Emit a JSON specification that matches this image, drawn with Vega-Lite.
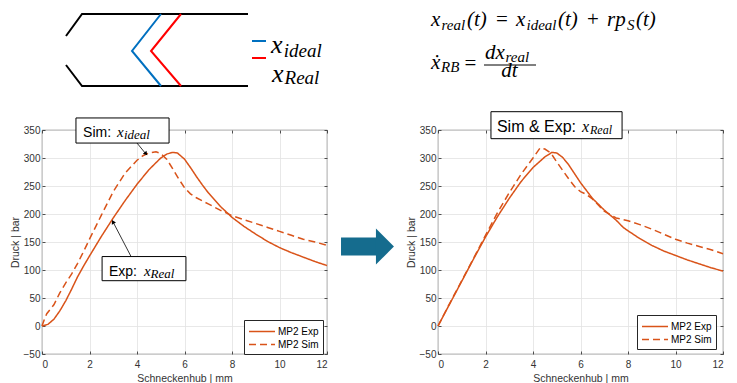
{
  "$schema": "https://vega.github.io/schema/vega-lite/v6.json",
  "padding": {"left": 9, "top": 0, "right": 0, "bottom": 0},
  "background": "white",
  "columns": 2,
  "bounds": "flush",
  "spacing": {"row": 30, "column": 111},
  "resolve": {"scale": {"strokeDash": "independent"}, "legend": {"strokeDash": "independent"}},
  "datasets": {
    "diag": [
      {"seg": "wallTop", "part": "wall", "o": 1, "x": 8.42, "y": 64},
      {"seg": "wallTop", "part": "wall", "o": 2, "x": 14.04, "y": 86},
      {"seg": "wallTop", "part": "wall", "o": 3, "x": 72.28, "y": 86},
      {"seg": "wallBot", "part": "wall", "o": 1, "x": 8.42, "y": 35},
      {"seg": "wallBot", "part": "wall", "o": 2, "x": 14.04, "y": 14},
      {"seg": "wallBot", "part": "wall", "o": 3, "x": 72.28, "y": 14},
      {"seg": "ideal", "part": "ideal", "o": 1, "x": 41.75, "y": 86},
      {"seg": "ideal", "part": "ideal", "o": 2, "x": 31.58, "y": 49},
      {"seg": "ideal", "part": "ideal", "o": 3, "x": 41.75, "y": 14},
      {"seg": "real", "part": "real", "o": 1, "x": 48.77, "y": 86},
      {"seg": "real", "part": "real", "o": 2, "x": 38.25, "y": 49},
      {"seg": "real", "part": "real", "o": 3, "x": 48.77, "y": 14},
      {"seg": "keyIdeal", "part": "ideal", "o": 1, "x": 73.68, "y": 59},
      {"seg": "keyIdeal", "part": "ideal", "o": 2, "x": 78.6, "y": 59},
      {"seg": "keyReal", "part": "real", "o": 1, "x": 73.68, "y": 42},
      {"seg": "keyReal", "part": "real", "o": 2, "x": 78.6, "y": 42}
    ],
    "diagText": [
      {"t": "x", "role": "main", "x": 80.35, "y": 47},
      {"t": "ideal", "role": "sub", "x": 84.8, "y": 43},
      {"t": "x", "role": "main", "x": 80.7, "y": 18},
      {"t": "Real", "role": "sub", "x": 85.1, "y": 16}
    ],
    "formula": [
      {"t": "x", "role": "main", "x": -2.46, "y": 74.3},
      {"t": "real", "role": "sub", "x": 1.23, "y": 70},
      {"t": "(t)", "role": "main", "x": 10.18, "y": 74.3},
      {"t": "=", "role": "op", "x": 20.35, "y": 74.3},
      {"t": "x", "role": "main", "x": 27.37, "y": 74.3},
      {"t": "ideal", "role": "sub", "x": 31.05, "y": 70},
      {"t": "(t)", "role": "main", "x": 42.11, "y": 74.3},
      {"t": "+", "role": "op", "x": 52.28, "y": 74.3},
      {"t": "rp", "role": "main", "x": 59.3, "y": 74.3},
      {"t": "S", "role": "sub", "x": 66.32, "y": 70},
      {"t": "(t)", "role": "main", "x": 69.47, "y": 74.3},
      {"t": "ẋ", "role": "main", "x": -2.46, "y": 30.7},
      {"t": "RB", "role": "sub", "x": 1.05, "y": 28.3},
      {"t": "=", "role": "op", "x": 9.3, "y": 30},
      {"t": "dx", "role": "main", "x": 16.49, "y": 40.7},
      {"t": "real", "role": "sub", "x": 23.68, "y": 37.6},
      {"t": "dt", "role": "main", "x": 22.18, "y": 23.3}
    ],
    "fracBar": [{"x": 16.14, "x2": 34.39, "y": 35}],
    "leftCurves": [
      {"series": "MP2 Exp", "mm": 0, "bar": 0}, {"series": "MP2 Exp", "mm": 0.25, "bar": 3},
      {"series": "MP2 Exp", "mm": 0.5, "bar": 12}, {"series": "MP2 Exp", "mm": 0.75, "bar": 27},
      {"series": "MP2 Exp", "mm": 1, "bar": 45}, {"series": "MP2 Exp", "mm": 1.25, "bar": 66},
      {"series": "MP2 Exp", "mm": 1.5, "bar": 88}, {"series": "MP2 Exp", "mm": 1.75, "bar": 107},
      {"series": "MP2 Exp", "mm": 2, "bar": 125}, {"series": "MP2 Exp", "mm": 2.5, "bar": 160},
      {"series": "MP2 Exp", "mm": 3, "bar": 193}, {"series": "MP2 Exp", "mm": 3.5, "bar": 224},
      {"series": "MP2 Exp", "mm": 4, "bar": 253}, {"series": "MP2 Exp", "mm": 4.5, "bar": 279},
      {"series": "MP2 Exp", "mm": 5, "bar": 300}, {"series": "MP2 Exp", "mm": 5.25, "bar": 307},
      {"series": "MP2 Exp", "mm": 5.5, "bar": 310}, {"series": "MP2 Exp", "mm": 5.7, "bar": 309},
      {"series": "MP2 Exp", "mm": 6, "bar": 298}, {"series": "MP2 Exp", "mm": 6.25, "bar": 283},
      {"series": "MP2 Exp", "mm": 6.5, "bar": 267}, {"series": "MP2 Exp", "mm": 6.75, "bar": 252},
      {"series": "MP2 Exp", "mm": 7, "bar": 238}, {"series": "MP2 Exp", "mm": 7.5, "bar": 214},
      {"series": "MP2 Exp", "mm": 8, "bar": 194}, {"series": "MP2 Exp", "mm": 8.5, "bar": 178},
      {"series": "MP2 Exp", "mm": 8.75, "bar": 171}, {"series": "MP2 Exp", "mm": 9, "bar": 164},
      {"series": "MP2 Exp", "mm": 9.5, "bar": 151}, {"series": "MP2 Exp", "mm": 10, "bar": 140},
      {"series": "MP2 Exp", "mm": 10.5, "bar": 131}, {"series": "MP2 Exp", "mm": 11, "bar": 123},
      {"series": "MP2 Exp", "mm": 11.5, "bar": 115}, {"series": "MP2 Exp", "mm": 12, "bar": 108},
      {"series": "MP2 Sim", "mm": 0, "bar": 0}, {"series": "MP2 Sim", "mm": 0.1, "bar": 12},
      {"series": "MP2 Sim", "mm": 0.2, "bar": 22}, {"series": "MP2 Sim", "mm": 0.5, "bar": 38},
      {"series": "MP2 Sim", "mm": 0.75, "bar": 59}, {"series": "MP2 Sim", "mm": 1, "bar": 77},
      {"series": "MP2 Sim", "mm": 1.25, "bar": 93}, {"series": "MP2 Sim", "mm": 1.5, "bar": 112},
      {"series": "MP2 Sim", "mm": 1.75, "bar": 133}, {"series": "MP2 Sim", "mm": 2, "bar": 155},
      {"series": "MP2 Sim", "mm": 2.5, "bar": 198}, {"series": "MP2 Sim", "mm": 3, "bar": 240},
      {"series": "MP2 Sim", "mm": 3.5, "bar": 273}, {"series": "MP2 Sim", "mm": 4, "bar": 296},
      {"series": "MP2 Sim", "mm": 4.25, "bar": 304}, {"series": "MP2 Sim", "mm": 4.5, "bar": 309},
      {"series": "MP2 Sim", "mm": 4.8, "bar": 311}, {"series": "MP2 Sim", "mm": 5, "bar": 308},
      {"series": "MP2 Sim", "mm": 5.25, "bar": 298}, {"series": "MP2 Sim", "mm": 5.5, "bar": 281},
      {"series": "MP2 Sim", "mm": 5.75, "bar": 263}, {"series": "MP2 Sim", "mm": 6, "bar": 247},
      {"series": "MP2 Sim", "mm": 6.25, "bar": 236}, {"series": "MP2 Sim", "mm": 6.5, "bar": 229},
      {"series": "MP2 Sim", "mm": 7, "bar": 218}, {"series": "MP2 Sim", "mm": 7.5, "bar": 207},
      {"series": "MP2 Sim", "mm": 8, "bar": 197}, {"series": "MP2 Sim", "mm": 8.5, "bar": 190},
      {"series": "MP2 Sim", "mm": 9, "bar": 183}, {"series": "MP2 Sim", "mm": 9.5, "bar": 176},
      {"series": "MP2 Sim", "mm": 10, "bar": 169}, {"series": "MP2 Sim", "mm": 10.5, "bar": 162},
      {"series": "MP2 Sim", "mm": 11, "bar": 155}, {"series": "MP2 Sim", "mm": 11.5, "bar": 150},
      {"series": "MP2 Sim", "mm": 12, "bar": 144}
    ],
    "rightCurves": [
      {"series": "MP2 Exp", "mm": 0, "bar": 0}, {"series": "MP2 Exp", "mm": 0.5, "bar": 40},
      {"series": "MP2 Exp", "mm": 1, "bar": 80}, {"series": "MP2 Exp", "mm": 1.5, "bar": 120},
      {"series": "MP2 Exp", "mm": 2, "bar": 159}, {"series": "MP2 Exp", "mm": 2.5, "bar": 195},
      {"series": "MP2 Exp", "mm": 3, "bar": 228}, {"series": "MP2 Exp", "mm": 3.5, "bar": 258},
      {"series": "MP2 Exp", "mm": 4, "bar": 283}, {"series": "MP2 Exp", "mm": 4.5, "bar": 302},
      {"series": "MP2 Exp", "mm": 4.8, "bar": 310}, {"series": "MP2 Exp", "mm": 5, "bar": 309},
      {"series": "MP2 Exp", "mm": 5.25, "bar": 301}, {"series": "MP2 Exp", "mm": 5.5, "bar": 288},
      {"series": "MP2 Exp", "mm": 6, "bar": 256}, {"series": "MP2 Exp", "mm": 6.5, "bar": 228},
      {"series": "MP2 Exp", "mm": 7, "bar": 207}, {"series": "MP2 Exp", "mm": 7.5, "bar": 189},
      {"series": "MP2 Exp", "mm": 7.8, "bar": 176}, {"series": "MP2 Exp", "mm": 8, "bar": 170},
      {"series": "MP2 Exp", "mm": 8.5, "bar": 156}, {"series": "MP2 Exp", "mm": 9, "bar": 144},
      {"series": "MP2 Exp", "mm": 9.5, "bar": 134}, {"series": "MP2 Exp", "mm": 10, "bar": 126},
      {"series": "MP2 Exp", "mm": 10.5, "bar": 118}, {"series": "MP2 Exp", "mm": 11, "bar": 111},
      {"series": "MP2 Exp", "mm": 11.5, "bar": 104}, {"series": "MP2 Exp", "mm": 12, "bar": 98},
      {"series": "MP2 Sim", "mm": 0, "bar": 0}, {"series": "MP2 Sim", "mm": 0.5, "bar": 41},
      {"series": "MP2 Sim", "mm": 1, "bar": 81}, {"series": "MP2 Sim", "mm": 1.5, "bar": 121},
      {"series": "MP2 Sim", "mm": 2, "bar": 162}, {"series": "MP2 Sim", "mm": 2.5, "bar": 202},
      {"series": "MP2 Sim", "mm": 3, "bar": 238}, {"series": "MP2 Sim", "mm": 3.5, "bar": 271},
      {"series": "MP2 Sim", "mm": 4, "bar": 300}, {"series": "MP2 Sim", "mm": 4.3, "bar": 318},
      {"series": "MP2 Sim", "mm": 4.5, "bar": 316}, {"series": "MP2 Sim", "mm": 4.75, "bar": 309},
      {"series": "MP2 Sim", "mm": 5, "bar": 293}, {"series": "MP2 Sim", "mm": 5.25, "bar": 278},
      {"series": "MP2 Sim", "mm": 5.5, "bar": 263}, {"series": "MP2 Sim", "mm": 5.75, "bar": 249},
      {"series": "MP2 Sim", "mm": 6, "bar": 240}, {"series": "MP2 Sim", "mm": 6.25, "bar": 235},
      {"series": "MP2 Sim", "mm": 6.5, "bar": 227}, {"series": "MP2 Sim", "mm": 6.75, "bar": 216},
      {"series": "MP2 Sim", "mm": 7, "bar": 205}, {"series": "MP2 Sim", "mm": 7.5, "bar": 193},
      {"series": "MP2 Sim", "mm": 8, "bar": 188}, {"series": "MP2 Sim", "mm": 8.5, "bar": 181},
      {"series": "MP2 Sim", "mm": 9, "bar": 173}, {"series": "MP2 Sim", "mm": 9.5, "bar": 164},
      {"series": "MP2 Sim", "mm": 10, "bar": 155}, {"series": "MP2 Sim", "mm": 10.5, "bar": 148},
      {"series": "MP2 Sim", "mm": 11, "bar": 142}, {"series": "MP2 Sim", "mm": 11.5, "bar": 136},
      {"series": "MP2 Sim", "mm": 12, "bar": 129}
    ],
    "leftBoxes": [
      {"mm": 1.43, "mm2": 5.35, "bar": 326.7, "bar2": 371.5},
      {"mm": 2.53, "mm2": 6.06, "bar": 80.9, "bar2": 124}
    ],
    "leftPointers": [
      {"id": "sim", "mm": 4.0, "bar": 326.7, "mm2": 4.38, "bar2": 307},
      {"id": "exp", "mm": 3.75, "bar": 124, "mm2": 3.0, "bar2": 185}
    ],
    "leftHeads": [
      {"id": "sim", "mm": 4.36, "bar": 308.5},
      {"id": "exp", "mm": 3.0, "bar": 185}
    ],
    "leftBoxText": [
      {"t": "Sim:", "role": "sans", "mm": 1.73, "bar": 337.4},
      {"t": "x", "role": "main", "mm": 3.16, "bar": 337.4},
      {"t": "ideal", "role": "sub", "mm": 3.45, "bar": 333.9},
      {"t": "Exp:", "role": "sans", "mm": 2.82, "bar": 90},
      {"t": "x", "role": "main", "mm": 4.29, "bar": 90},
      {"t": "Real", "role": "sub", "mm": 4.57, "bar": 86.4}
    ],
    "arrowBody": [
      {"mm": 12.59, "mm2": 14.1, "bar": 125.8, "bar2": 158.1}
    ],
    "arrowHead": [
      {"mm": 14.44, "bar": 141.9}
    ],
    "rightBoxes": [
      {"mm": 2.23, "mm2": 7.75, "bar": 334.5, "bar2": 382.7}
    ],
    "rightBoxText": [
      {"t": "Sim & Exp:", "role": "sans", "mm": 2.48, "bar": 347},
      {"t": "x", "role": "main", "mm": 6.06, "bar": 347},
      {"t": "Real", "role": "sub", "mm": 6.4, "bar": 343.4}
    ]
  },
  "concat": [
    {
      "width": 285, "height": 100,
      "view": {"stroke": null},
      "layer": [
        {
          "data": {"name": "diag"},
          "mark": {"type": "line", "strokeWidth": 2},
          "encoding": {
            "x": {"field": "x", "type": "quantitative", "scale": {"domain": [0, 100], "nice": false, "zero": false}, "axis": null},
            "y": {"field": "y", "type": "quantitative", "scale": {"domain": [0, 100], "nice": false, "zero": false}, "axis": null},
            "detail": {"field": "seg"},
            "order": {"field": "o"},
            "color": {"field": "part", "type": "nominal", "scale": {"domain": ["wall", "ideal", "real"], "range": ["#000000", "#0070C0", "#FF0000"]}, "legend": null}
          }
        },
        {
          "data": {"name": "diagText"},
          "transform": [{"filter": "datum.role === 'main'"}],
          "mark": {"type": "text", "font": "Liberation Serif", "fontStyle": "italic", "fontSize": 26, "align": "left", "baseline": "alphabetic", "color": "#000000"},
          "encoding": {
            "x": {"field": "x", "type": "quantitative"},
            "y": {"field": "y", "type": "quantitative"},
            "text": {"field": "t"}
          }
        },
        {
          "data": {"name": "diagText"},
          "transform": [{"filter": "datum.role === 'sub'"}],
          "mark": {"type": "text", "font": "Liberation Serif", "fontStyle": "italic", "fontSize": 19, "align": "left", "baseline": "alphabetic", "color": "#000000"},
          "encoding": {
            "x": {"field": "x", "type": "quantitative"},
            "y": {"field": "y", "type": "quantitative"},
            "text": {"field": "t"}
          }
        }
      ]
    },
    {
      "width": 285, "height": 100,
      "view": {"stroke": null},
      "layer": [
        {
          "data": {"name": "formula"},
          "transform": [{"filter": "datum.role === 'main'"}],
          "mark": {"type": "text", "font": "Liberation Serif", "fontStyle": "italic", "fontSize": 21, "align": "left", "baseline": "alphabetic", "color": "#000000"},
          "encoding": {
            "x": {"field": "x", "type": "quantitative", "scale": {"domain": [0, 100], "nice": false, "zero": false}, "axis": null},
            "y": {"field": "y", "type": "quantitative", "scale": {"domain": [0, 100], "nice": false, "zero": false}, "axis": null},
            "text": {"field": "t"}
          }
        },
        {
          "data": {"name": "formula"},
          "transform": [{"filter": "datum.role === 'sub'"}],
          "mark": {"type": "text", "font": "Liberation Serif", "fontStyle": "italic", "fontSize": 15, "align": "left", "baseline": "alphabetic", "color": "#000000"},
          "encoding": {
            "x": {"field": "x", "type": "quantitative"},
            "y": {"field": "y", "type": "quantitative"},
            "text": {"field": "t"}
          }
        },
        {
          "data": {"name": "formula"},
          "transform": [{"filter": "datum.role === 'op'"}],
          "mark": {"type": "text", "font": "Liberation Serif", "fontSize": 21, "align": "left", "baseline": "alphabetic", "color": "#000000"},
          "encoding": {
            "x": {"field": "x", "type": "quantitative"},
            "y": {"field": "y", "type": "quantitative"},
            "text": {"field": "t"}
          }
        },
        {
          "data": {"name": "fracBar"},
          "mark": {"type": "rule", "color": "#000000", "strokeWidth": 1},
          "encoding": {
            "x": {"field": "x", "type": "quantitative"},
            "x2": {"field": "x2"},
            "y": {"field": "y", "type": "quantitative"}
          }
        }
      ]
    },
    {
      "width": 285, "height": 224,
      "resolve": {"axis": {"x": "independent", "y": "independent"}},
      "layer": [
        {
          "layer": [
            {
              "data": {"name": "leftCurves"},
              "mark": {"type": "line", "color": "#D95319", "strokeWidth": 1.5},
              "encoding": {
                "x": {"field": "mm", "type": "quantitative", "scale": {"domain": [0, 12], "nice": false, "zero": false}, "axis": {"values": [0, 2, 4, 6, 8, 10, 12], "tickCount": 20, "format": "d", "title": "Schneckenhub | mm"}},
                "y": {"field": "bar", "type": "quantitative", "scale": {"domain": [-50, 350], "nice": false, "zero": false}, "axis": {"values": [-50, 0, 50, 100, 150, 200, 250, 300, 350], "tickCount": 20, "format": "d", "title": "Druck | bar"}},
                "strokeDash": {"field": "series", "type": "nominal", "scale": {"domain": ["MP2 Exp", "MP2 Sim"], "range": [[1, 0], [7, 4]]},
                  "legend": {"title": null, "orient": "none", "legendX": 202, "legendY": 190}}
              }
            },
            {
              "data": {"name": "arrowBody"},
              "mark": {"type": "rect", "color": "#156C8E", "opacity": 1},
              "encoding": {
                "x": {"field": "mm", "type": "quantitative"},
                "x2": {"field": "mm2"},
                "y": {"field": "bar", "type": "quantitative"},
                "y2": {"field": "bar2"}
              }
            },
            {
              "data": {"name": "arrowHead"},
              "mark": {"type": "point", "shape": "M-0.5,-1L0.5,0L-0.5,1Z", "filled": true, "color": "#156C8E", "opacity": 1, "size": 1296},
              "encoding": {
                "x": {"field": "mm", "type": "quantitative"},
                "y": {"field": "bar", "type": "quantitative"}
              }
            },
            {
              "data": {"name": "leftPointers"},
              "mark": {"type": "rule", "color": "#000000", "strokeWidth": 0.8},
              "encoding": {
                "x": {"field": "mm", "type": "quantitative"},
                "y": {"field": "bar", "type": "quantitative"},
                "x2": {"field": "mm2"},
                "y2": {"field": "bar2"}
              }
            },
            {
              "data": {"name": "leftHeads"},
              "transform": [{"filter": "datum.id === 'sim'"}],
              "mark": {"type": "point", "shape": "triangle", "filled": true, "color": "#000000", "size": 22, "angle": 140, "opacity": 1},
              "encoding": {
                "x": {"field": "mm", "type": "quantitative"},
                "y": {"field": "bar", "type": "quantitative"}
              }
            },
            {
              "data": {"name": "leftHeads"},
              "transform": [{"filter": "datum.id === 'exp'"}],
              "mark": {"type": "point", "shape": "triangle", "filled": true, "color": "#000000", "size": 22, "angle": 331, "opacity": 1},
              "encoding": {
                "x": {"field": "mm", "type": "quantitative"},
                "y": {"field": "bar", "type": "quantitative"}
              }
            },
            {
              "data": {"name": "leftBoxes"},
              "mark": {"type": "rect", "fill": "#FFFFFF", "stroke": "#000000", "strokeWidth": 1},
              "encoding": {
                "x": {"field": "mm", "type": "quantitative"},
                "x2": {"field": "mm2"},
                "y": {"field": "bar", "type": "quantitative"},
                "y2": {"field": "bar2"}
              }
            },
            {
              "data": {"name": "leftBoxText"},
              "transform": [{"filter": "datum.role === 'sans'"}],
              "mark": {"type": "text", "font": "Liberation Sans", "fontSize": 14, "align": "left", "baseline": "alphabetic", "color": "#000000"},
              "encoding": {
                "x": {"field": "mm", "type": "quantitative"},
                "y": {"field": "bar", "type": "quantitative"},
                "text": {"field": "t"}
              }
            },
            {
              "data": {"name": "leftBoxText"},
              "transform": [{"filter": "datum.role === 'main'"}],
              "mark": {"type": "text", "font": "Liberation Serif", "fontStyle": "italic", "fontSize": 15, "align": "left", "baseline": "alphabetic", "color": "#000000"},
              "encoding": {
                "x": {"field": "mm", "type": "quantitative"},
                "y": {"field": "bar", "type": "quantitative"},
                "text": {"field": "t"}
              }
            },
            {
              "data": {"name": "leftBoxText"},
              "transform": [{"filter": "datum.role === 'sub'"}],
              "mark": {"type": "text", "font": "Liberation Serif", "fontStyle": "italic", "fontSize": 13, "align": "left", "baseline": "alphabetic", "color": "#000000"},
              "encoding": {
                "x": {"field": "mm", "type": "quantitative"},
                "y": {"field": "bar", "type": "quantitative"},
                "text": {"field": "t"}
              }
            }
          ]
        },
        {
          "data": {"name": "leftCurves"},
          "mark": {"type": "point", "opacity": 0},
          "encoding": {
            "x": {"field": "mm", "type": "quantitative", "axis": {"orient": "top", "values": [0, 2, 4, 6, 8, 10, 12], "tickCount": 20, "labels": false, "grid": false, "title": null}},
            "y": {"field": "bar", "type": "quantitative", "axis": {"orient": "right", "values": [-50, 0, 50, 100, 150, 200, 250, 300, 350], "tickCount": 20, "labels": false, "grid": false, "title": null}}
          }
        }
      ]
    },
    {
      "width": 285, "height": 224,
      "resolve": {"axis": {"x": "independent", "y": "independent"}},
      "layer": [
        {
          "layer": [
            {
              "data": {"name": "rightCurves"},
              "mark": {"type": "line", "color": "#D95319", "strokeWidth": 1.5},
              "encoding": {
                "x": {"field": "mm", "type": "quantitative", "scale": {"domain": [0, 12], "nice": false, "zero": false}, "axis": {"values": [0, 2, 4, 6, 8, 10, 12], "tickCount": 20, "format": "d", "title": "Schneckenhub | mm"}},
                "y": {"field": "bar", "type": "quantitative", "scale": {"domain": [-50, 350], "nice": false, "zero": false}, "axis": {"values": [-50, 0, 50, 100, 150, 200, 250, 300, 350], "tickCount": 20, "format": "d", "title": "Druck | bar"}},
                "strokeDash": {"field": "series", "type": "nominal", "scale": {"domain": ["MP2 Exp", "MP2 Sim"], "range": [[1, 0], [7, 4]]},
                  "legend": {"title": null, "orient": "none", "legendX": 199, "legendY": 185}}
              }
            },
            {
              "data": {"name": "rightBoxes"},
              "mark": {"type": "rect", "fill": "#FFFFFF", "stroke": "#000000", "strokeWidth": 1},
              "encoding": {
                "x": {"field": "mm", "type": "quantitative"},
                "x2": {"field": "mm2"},
                "y": {"field": "bar", "type": "quantitative"},
                "y2": {"field": "bar2"}
              }
            },
            {
              "data": {"name": "rightBoxText"},
              "transform": [{"filter": "datum.role === 'sans'"}],
              "mark": {"type": "text", "font": "Liberation Sans", "fontSize": 16, "align": "left", "baseline": "alphabetic", "color": "#000000"},
              "encoding": {
                "x": {"field": "mm", "type": "quantitative"},
                "y": {"field": "bar", "type": "quantitative"},
                "text": {"field": "t"}
              }
            },
            {
              "data": {"name": "rightBoxText"},
              "transform": [{"filter": "datum.role === 'main'"}],
              "mark": {"type": "text", "font": "Liberation Serif", "fontStyle": "italic", "fontSize": 16, "align": "left", "baseline": "alphabetic", "color": "#000000"},
              "encoding": {
                "x": {"field": "mm", "type": "quantitative"},
                "y": {"field": "bar", "type": "quantitative"},
                "text": {"field": "t"}
              }
            },
            {
              "data": {"name": "rightBoxText"},
              "transform": [{"filter": "datum.role === 'sub'"}],
              "mark": {"type": "text", "font": "Liberation Serif", "fontStyle": "italic", "fontSize": 12, "align": "left", "baseline": "alphabetic", "color": "#000000"},
              "encoding": {
                "x": {"field": "mm", "type": "quantitative"},
                "y": {"field": "bar", "type": "quantitative"},
                "text": {"field": "t"}
              }
            }
          ]
        },
        {
          "data": {"name": "rightCurves"},
          "mark": {"type": "point", "opacity": 0},
          "encoding": {
            "x": {"field": "mm", "type": "quantitative", "axis": {"orient": "top", "values": [0, 2, 4, 6, 8, 10, 12], "tickCount": 20, "labels": false, "grid": false, "title": null}},
            "y": {"field": "bar", "type": "quantitative", "axis": {"orient": "right", "values": [-50, 0, 50, 100, 150, 200, 250, 300, 350], "tickCount": 20, "labels": false, "grid": false, "title": null}}
          }
        }
      ]
    }
  ],
  "config": {
    "font": "Liberation Sans",
    "view": {"stroke": "#262626", "strokeWidth": 0.8},
    "axis": {
      "labelFont": "Liberation Sans", "labelFontSize": 10, "labelColor": "#333333", "labelOverlap": false,
      "titleFont": "Liberation Sans", "titleFontSize": 10.5, "titleFontWeight": "normal", "titleColor": "#333333",
      "grid": true, "gridColor": "#E2E2E2", "gridWidth": 0.8,
      "domain": false, "tickColor": "#262626", "tickSize": -3, "tickWidth": 0.8
    },
    "axisX": {"labelPadding": 8, "titlePadding": 4},
    "axisY": {"labelPadding": 5, "titlePadding": 3},
    "legend": {
      "fillColor": "#FFFFFF", "strokeColor": "#262626", "padding": 4,
      "labelFont": "Liberation Sans", "labelFontSize": 10, "labelColor": "#000000", "labelOffset": 8.5,
      "symbolType": "M-2,0H2", "symbolOffset": 6.5, "symbolStrokeColor": "#D95319", "symbolStrokeWidth": 1.5, "symbolSize": 169,
      "rowPadding": 0
    }
  }
}
